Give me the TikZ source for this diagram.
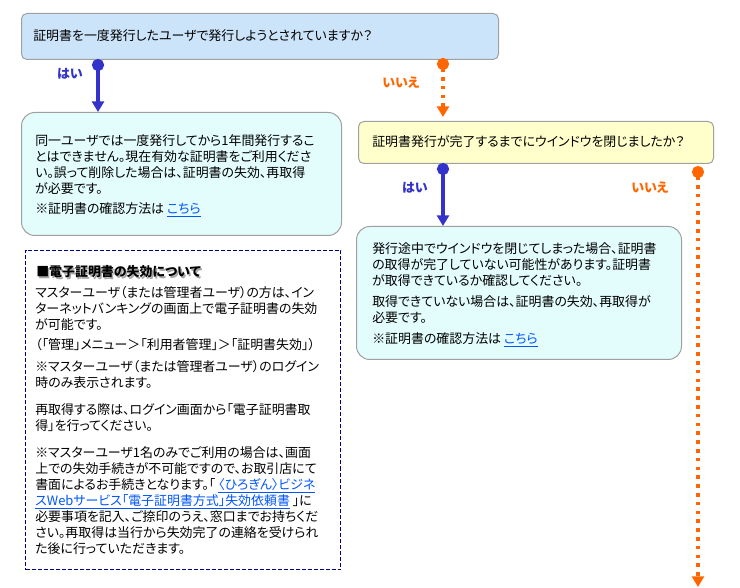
\documentclass[tikz,border=0pt]{standalone}
\usepackage{fontspec}
\setmainfont{Noto Sans CJK JP}[RawFeature=+palt]
\usetikzlibrary{positioning,arrows.meta}

\definecolor{qblue}{HTML}{CCE4FA}
\definecolor{qyellow}{HTML}{FFFFCC}
\definecolor{acyan}{HTML}{E3FCFC}
\definecolor{boxgray}{HTML}{A0A0A0}
\definecolor{yesblue}{HTML}{3333CC}
\definecolor{noorange}{HTML}{FF6600}
\definecolor{notenavy}{HTML}{000080}
\definecolor{linkblue}{HTML}{0055FF}

\newcommand{\kochira}[1]{\textcolor{linkblue}{\underline{#1}}}

\tikzset{
  box/.style={draw=boxgray, line width=0.75pt, anchor=north west, inner sep=0pt},
  qbox/.style={box, rounded corners=4pt},
  abox/.style={box, fill=acyan, rounded corners=10pt},
  notebox/.style={draw=notenavy, line width=0.75pt, dash pattern=on 3pt off 1.5pt, anchor=north west, inner sep=0pt},
  txt/.style={anchor=north west, align=left, inner sep=0pt, font=\fontsize{9.7pt}{12pt}\selectfont},
  lbl/.style={inner sep=0pt, font=\fontsize{9.7pt}{12pt}\selectfont\bfseries},
  yesarrow/.style={draw=yesblue, line width=3pt, {Circle[length=9pt]}-{Triangle[length=8pt,width=9pt]}},
  noarrow/.style={draw=noorange, line width=2.6pt, dash pattern=on 2.6pt off 4pt, {Circle[length=9pt]}-{Triangle[length=8pt,width=9pt]}}
}

\begin{document}
\begin{tikzpicture}[x=0.75pt, y=-0.75pt]
 \useasboundingbox (0,0) rectangle (740,588);

 % questions
 \node[qbox, fill=qblue, minimum width=357.75pt, minimum height=34.5pt] (q1) at (21,13) {};
 \node[txt, anchor=west] (q1t) at (33,36) {証明書を一度発行したユーザで発行しようとされていますか？};

 \node[qbox, fill=qyellow, minimum width=266.25pt, minimum height=31.5pt] (q2) at (358,121) {};
 \node[txt, anchor=west] (q2t) at (372,142) {証明書発行が完了するまでにウインドウを閉じましたか？};

 % answers
 \node[abox, minimum width=240pt, minimum height=92.25pt] (a1) at (21,112) {};
 \node[txt] (a1t) at (35,134) {同一ユーザでは一度発行してから1年間発行するこ\\
 とはできません。現在有効な証明書をご利用くださ\\
 い。誤って削除した場合は、証明書の失効、再取得\\
 が必要です。\\[3pt]
 ※証明書の確認方法は \kochira{こちら}};

 \node[abox, minimum width=243.75pt, minimum height=99.75pt] (a2) at (356,226) {};
 \node[txt] (a2t) at (372,242) {発行途中でウインドウを閉じてしまった場合、証明書\\
 の取得が完了していない可能性があります。証明書\\
 が取得できているか確認してください。\\[3.75pt]
 取得できていない場合は、証明書の失効、再取得が\\
 必要です。\\[3.75pt]
 ※証明書の確認方法は \kochira{こちら}};

 % note
 \node[notebox, minimum width=236.25pt, minimum height=239.25pt] (note) at (25,250) {};
 \node[lbl, anchor=west, text=black!35] (notettlshadow) at (37.5,273.5) {■電子証明書の失効について};
 \node[lbl, anchor=west] (notettl) at (36,272) {■電子証明書の失効について};
 \node[txt] (notet) at (35,286) {マスターユーザ（または管理者ユーザ）の方は、イン\\
 ターネットバンキングの画面上で電子証明書の失効\\
 が可能です。\\[3pt]
 （「管理」メニュー＞「利用者管理」＞「証明書失効」）\\[4.5pt]
 ※マスターユーザ（または管理者ユーザ）のログイン\\
 時のみ表示されます。\\[8.25pt]
 再取得する際は、ログイン画面から「電子証明書取\\
 得」を行ってください。\\[8.25pt]
 ※マスターユーザ1名のみでご利用の場合は、画面\\
 上での失効手続きが不可能ですので、お取引店にて\\
 書面によるお手続きとなります。「 \kochira{〈ひろぎん〉ビジネ}\\
 \kochira{スWebサービス「電子証明書方式」失効依頼書} 」に\\
 必要事項を記入、ご捺印のうえ、窓口までお持ちくだ\\
 さい。再取得は当行から失効完了の連絡を受けられ\\
 た後に行っていただきます。};

 % lines
 \coordinate (q1yes) at (98,59);
 \coordinate (q2yes) at (443,163);
 \coordinate (q1no) at (443,58);
 \coordinate (q2no) at (698,166);
 \coordinate (q2noend) at (698,587);

 \foreach \from/\to in {q1yes/a1, q2yes/a2}
   \draw[yesarrow] (\from) -- (\from |- \to.north);
 \draw[noarrow, shorten >=3pt] (q1no) -- (q1no |- q2.north);
 \draw[noarrow] (q2no) -- (q2noend);

 \foreach \x/\y/\name/\word/\col in {70/74/yes1/はい/yesblue, 401/83/no1/いいえ/noorange, 415/188/yes2/はい/yesblue, 650/188/no2/いいえ/noorange}
   \node[lbl, text=\col] (lbl\name) at (\x,\y) {\word};

\end{tikzpicture}
\end{document}
